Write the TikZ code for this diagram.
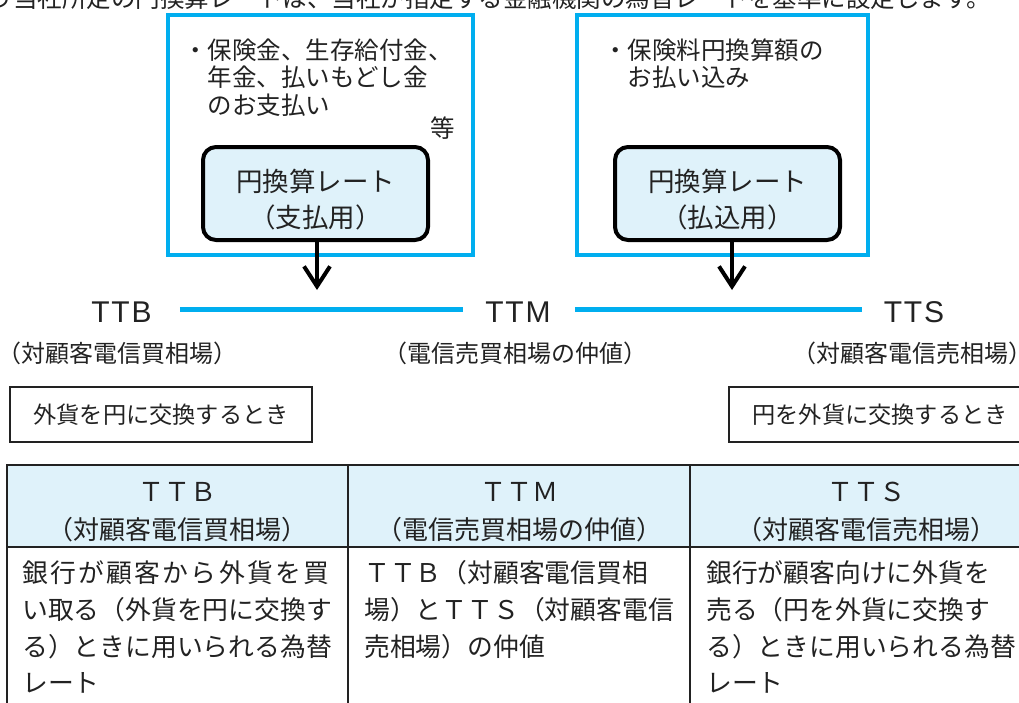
\documentclass[tikz,border=0pt]{standalone}
\usepackage{fontspec}
\setmainfont{Liberation Sans}
\newfontfamily\jp{Noto Sans CJK JP}
\newfontfamily\lat[LetterSpace=6]{Liberation Sans}
\usetikzlibrary{arrows.meta}
\definecolor{cyanc}{HTML}{00AEEF}
\definecolor{paleblue}{HTML}{DFF2FA}
\definecolor{inkc}{HTML}{222222}
\tikzset{
  bluebox/.style={draw=cyanc, line width=3.2pt, inner sep=0pt},
  boxtext/.style={inner sep=0pt, text=inkc, font=\jp\fontsize{24.5}{29}\selectfont},
  ratebox/.style={draw=black, line width=4pt, fill=paleblue, rounded corners=13pt,
    minimum width=225pt, minimum height=93pt, inner sep=0pt, align=center,
    text=inkc, font=\jp\fontsize{26.5}{36}\selectfont},
  flowarrow/.style={draw=black, line width=4pt, -{Straight Barb[length=20pt,width=26pt]}},
  rateword/.style={inner sep=0pt, text=inkc, font=\lat\fontsize{30}{30}\selectfont},
  ratelabel/.style={inner sep=0pt, text=inkc, font=\jp\fontsize{24}{24}\selectfont},
  blueline/.style={draw=cyanc, line width=5pt},
  casebox/.style={draw=inkc, line width=2pt, minimum width=302pt, minimum height=55pt,
    inner sep=0pt, text=inkc, font=\jp\fontsize{23.2}{23.2}\selectfont},
  tableline/.style={draw=inkc, line width=2pt},
  headtext/.style={inner sep=0pt, text=inkc, font=\jp\fontsize{26}{26}\selectfont},
  bodytext/.style={inner sep=0pt, anchor=base west, text=inkc, font=\jp\fontsize{25.8}{25.8}\selectfont},
  toptext/.style={inner sep=0pt, anchor=base west, text=inkc, font=\jp\fontsize{24.5}{24.5}\selectfont},
}
\begin{document}
\begin{tikzpicture}[x=1pt,y=-1pt]
\useasboundingbox (0,0) rectangle (1019,702);
\clip (0,0) rectangle (1019,702);

% cut-off first line
\node[toptext] (topline) at (-11.5,7) {う当社所定の円換算レートは、当社が指定する金融機関の為替レートを基準に設定します。};

% blue frames
\node[bluebox, minimum width=305pt, minimum height=240pt] (lframe) at (320.5,135) {};
\node[bluebox, minimum width=291pt, minimum height=240pt] (rframe) at (722.5,135) {};

% frame texts
\node[boxtext, anchor=base west] (l1) at (183,59) {・保険金、生存給付金、};
\node[boxtext, anchor=base west] (l2) at (207.5,86.5) {年金、払いもどし金};
\node[boxtext, anchor=base west] (l3) at (207.5,114) {のお支払い};
\node[boxtext] (leq) at (443,128) {等};
\node[boxtext, anchor=base west] (r1) at (603,59) {・保険料円換算額の};
\node[boxtext, anchor=base west] (r2) at (627.5,86.5) {お払い込み};

% rate boxes
\node[ratebox] (lrate) at (315.5,193.5) {\rule{0pt}{35pt}円換算レート\\（支払用）};
\node[ratebox] (rrate) at (727.5,193.5) {\rule{0pt}{35pt}円換算レート\\（払込用）};

% arrows
\coordinate (ltip) at (317,290);
\coordinate (rtip) at (732,290);
\draw[flowarrow] (lrate.south -| ltip) -- (ltip);
\draw[flowarrow] (rrate.south -| rtip) -- (rtip);

% rate line
\node[rateword] (ttb) at (121.5,312) {TTB};
\node[rateword] (ttm) at (518,312) {TTM};
\node[rateword] (tts) at (914,312) {TTS};
\draw[blueline, shorten <=28pt, shorten >=22pt] ([yshift=3pt]ttb.east) -- ([yshift=3pt]ttm.west);
\draw[blueline, shorten <=24pt, shorten >=22pt] ([yshift=3pt]ttm.east) -- ([yshift=3pt]tts.west);

\node[ratelabel] (lab1) at (118,353) {（対顧客電信買相場）};
\node[ratelabel] (lab2) at (515,353) {（電信売買相場の仲値）};
\node[ratelabel] (lab3) at (912,353) {（対顧客電信売相場）};

% case boxes
\node[casebox] (case1) at (161,414.5) {外貨を円に交換するとき};
\node[casebox] (case2) at (880,414.5) {円を外貨に交換するとき};

% table
\fill[paleblue] (7,465) rectangle (1042,547);
\draw[tableline] (7,740) -- (7,465) -- (1042,465);
\draw[tableline] (7,547) -- (1042,547);
\draw[tableline] (348,465) -- (348,740);
\draw[tableline] (690,465) -- (690,740);

\node[headtext] (h1) at (177.5,492) {ＴＴＢ};
\node[headtext] (h1b) at (177.5,530) {（対顧客電信買相場）};
\node[headtext] (h2) at (519,492) {ＴＴＭ};
\node[headtext] (h2b) at (519,530) {（電信売買相場の仲値）};
\node[headtext] (h3) at (866,492) {ＴＴＳ};
\node[headtext] (h3b) at (866,530) {（対顧客電信売相場）};

\node[bodytext] (a1) at (22,582.8) {\addfontfeature{LetterSpace=9}銀行が顧客から外貨を買};
\node[bodytext] (a2) at (22,619.8) {い取る（外貨を円に交換す};
\node[bodytext] (a3) at (22,656.8) {る）ときに用いられる為替};
\node[bodytext] (a4) at (22,692.8) {レート};

\node[bodytext] (b1) at (364,582.8) {ＴＴＢ（対顧客電信買相};
\node[bodytext] (b2) at (364,619.8) {場）とＴＴＳ（対顧客電信};
\node[bodytext] (b3) at (364,656.8) {売相場）の仲値};

\node[bodytext] (c1) at (706,582.8) {銀行が顧客向けに外貨を};
\node[bodytext] (c2) at (706,619.8) {売る（円を外貨に交換す};
\node[bodytext] (c3) at (706,656.8) {る）ときに用いられる為替};
\node[bodytext] (c4) at (706,692.8) {レート};
\end{tikzpicture}
\end{document}
